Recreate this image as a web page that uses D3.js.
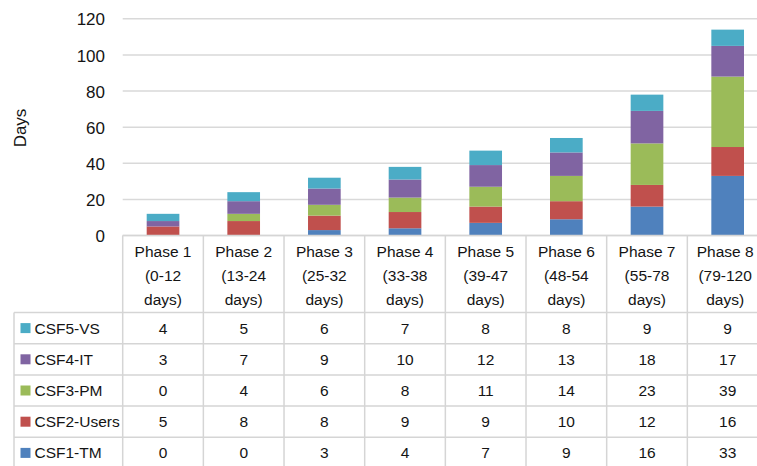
<!DOCTYPE html>
<html>
<head>
<meta charset="utf-8">
<script src="https://cdn.jsdelivr.net/npm/d3@7"></script>
<style>
  html, body { margin: 0; padding: 0; background: #fff; }
  svg { display: block; font-family: "Liberation Sans", Arial, Helvetica, sans-serif; }
</style>
</head>
<body>
<svg id="chart" width="757" height="466"></svg>
<script>
// Phases (column headers, three lines each)
const phases = ["Phase 1", "Phase 2", "Phase 3", "Phase 4", "Phase 5", "Phase 6", "Phase 7", "Phase 8"];
const phaseRanges = ["(0-12", "(13-24", "(25-32", "(33-38", "(39-47", "(48-54", "(55-78", "(79-120"];
const phaseUnit = "days)";

// Series, bottom of stack first
const seriesNames = ["CSF1-TM", "CSF2-Users", "CSF3-PM", "CSF4-IT", "CSF5-VS"];
const csf1TM    = [0, 0, 3, 4, 7, 9, 16, 33];
const csf2Users = [5, 8, 8, 9, 9, 10, 12, 16];
const csf3PM    = [0, 4, 6, 8, 11, 14, 23, 39];
const csf4IT    = [3, 7, 9, 10, 12, 13, 18, 17];
const csf5VS    = [4, 5, 6, 7, 8, 8, 9, 9];
const seriesColors = ["#4f81bd", "#c0504d", "#9bbb59", "#8064a2", "#4bacc6"];

const yTicks = [0, 20, 40, 60, 80, 100, 120];
const yTitle = "Days";

// Build row objects for d3.stack
const seriesValues = [csf1TM, csf2Users, csf3PM, csf4IT, csf5VS];
const rows = phases.map((p, i) => {
  const r = { phase: p };
  seriesNames.forEach((s, k) => { r[s] = seriesValues[k][i]; });
  return r;
});
const stacked = d3.stack().keys(seriesNames)(rows);

const svg = d3.select("#chart");
const W = 757;

const plotLeft = 122.7, plotRight = 768;
const x = d3.scaleBand().domain(phases).range([plotLeft, plotRight]).padding(0);
const y = d3.scaleLinear().domain([0, 120]).range([235.5, 18.8]);
const gridColor = "#d9d9d9";
const lineColor = "#d5d5d5";
const textColor = "#141414";
const tableFont = 15.5;

// Gridlines
svg.append("g").selectAll("line").data(yTicks).join("line")
  .attr("x1", plotLeft).attr("x2", W)
  .attr("y1", d => y(d)).attr("y2", d => y(d))
  .attr("stroke", gridColor).attr("stroke-width", 1.5);

// Y axis tick labels (no domain line)
const yAxis = d3.axisLeft(y).tickValues(yTicks).tickSize(0).tickPadding(0);
const gy = svg.append("g").attr("transform", "translate(105,0)").call(yAxis);
gy.select(".domain").remove();
gy.selectAll("text").attr("font-size", 17).attr("fill", textColor)
  .attr("font-family", "Liberation Sans, Arial, sans-serif").attr("dy", "0.36em");

// Y title
svg.append("text")
  .attr("transform", `translate(25.5,128) rotate(-90)`)
  .attr("text-anchor", "middle")
  .attr("font-size", 17).attr("fill", textColor)
  .text(yTitle);

// Stacked bars
const barFrac = 0.405;
const barW = x.bandwidth() * barFrac;
svg.append("g").selectAll("g").data(stacked).join("g")
  .attr("fill", (d, i) => seriesColors[i])
  .selectAll("rect").data(d => d).join("rect")
  .attr("x", d => x(d.data.phase) + (x.bandwidth() - barW) / 2)
  .attr("width", barW)
  .attr("y", d => y(d[1]))
  .attr("height", d => y(d[0]) - y(d[1]));

// Data table below the plot
const headerTop = y(0);
const headerBottom = 312.5;
const rowH = 31.2;
const tableLeft = 14;
const tableBottom = headerBottom + rowH * seriesNames.length;
const tbl = svg.append("g");

// horizontal lines
tbl.append("line").attr("x1", plotLeft).attr("x2", W)
  .attr("y1", headerTop).attr("y2", headerTop)
  .attr("stroke", lineColor).attr("stroke-width", 1.5);
d3.range(seriesNames.length + 1).forEach(k => {
  const yy = headerBottom + k * rowH;
  tbl.append("line").attr("x1", tableLeft).attr("x2", W)
    .attr("y1", yy).attr("y2", yy)
    .attr("stroke", lineColor).attr("stroke-width", 1.5);
});
// vertical lines
tbl.append("line").attr("x1", tableLeft).attr("x2", tableLeft)
  .attr("y1", headerBottom).attr("y2", tableBottom)
  .attr("stroke", lineColor).attr("stroke-width", 1.5);
phases.forEach(p => {
  tbl.append("line").attr("x1", x(p)).attr("x2", x(p))
    .attr("y1", headerTop).attr("y2", tableBottom)
    .attr("stroke", lineColor).attr("stroke-width", 1.5);
});

// column headers
phases.forEach((p, i) => {
  const cx = x(p) + x.bandwidth() / 2 - (i === phases.length - 1 ? 2.5 : 0);
  const lines = [p, phaseRanges[i], phaseUnit];
  lines.forEach((t, j) => {
    tbl.append("text").attr("x", cx).attr("y", 251 + j * 24)
      .attr("dy", "0.36em").attr("text-anchor", "middle")
      .attr("font-size", tableFont).attr("fill", textColor).text(t);
  });
});

// legend rows (top row = last series) and values
const displayOrder = d3.range(seriesNames.length).reverse();
displayOrder.forEach((k, r) => {
  const cy = headerBottom + r * rowH + rowH / 2;
  tbl.append("rect").attr("x", 20.5).attr("y", cy - 5).attr("width", 10).attr("height", 10)
    .attr("fill", seriesColors[k]);
  tbl.append("text").attr("x", 34.5).attr("y", cy).attr("dy", "0.36em")
    .attr("font-size", tableFont).attr("fill", textColor).text(seriesNames[k]);
  phases.forEach((p, i) => {
    tbl.append("text").attr("x", x(p) + x.bandwidth() / 2).attr("y", cy).attr("dy", "0.36em")
      .attr("text-anchor", "middle").attr("font-size", tableFont).attr("fill", textColor)
      .text(seriesValues[k][i]);
  });
});
</script>
</body>
</html>
